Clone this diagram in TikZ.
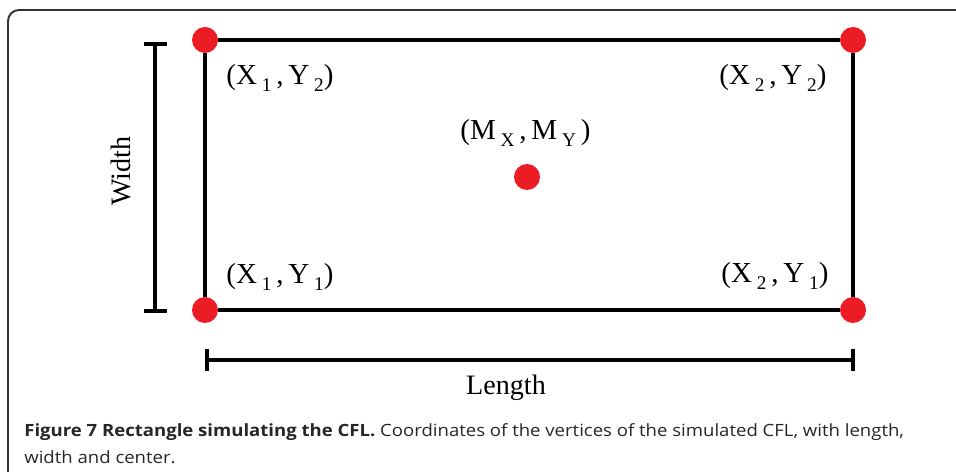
\documentclass[tikz,border=0pt]{standalone}
\usepackage{fontspec}
\setmainfont{Liberation Serif}
\newfontfamily\captfont[FakeStretch=1.1]{Open Sans}
\usepackage{xcolor}
\usepackage{tikz}
\usetikzlibrary{positioning,arrows.meta}

\definecolor{dotred}{RGB}{236,28,36}
\newcommand{\lowsub}[1]{\,\raisebox{-0.5ex}{\fontsize{11}{12}\selectfont #1}}

\begin{document}
\begin{tikzpicture}[x=0.02cm, y=-0.02cm,
				dot/.style={circle, fill=dotred, draw=none, minimum size=0.52cm, inner sep=0pt},
				side/.style={line width=2.5pt, black},
				bar/.style={line width=2pt, {Bar[width=0.46cm]}-{Bar[width=0.46cm]}},
				lbl/.style={anchor=base west, inner sep=0pt, font=\fontsize{16.5}{18}\selectfont},
				frame/.style={line width=1.1pt, black!80, rounded corners=0.22cm},
				capt/.style={anchor=base west, inner sep=0pt,
						font=\captfont\fontsize{9.6}{14.7}\selectfont, text=black!85},
			]
			\useasboundingbox (0,0) rectangle (956,472);
			% outer frame
			\draw[frame] (8,480) -- (8,10) -- (970,10);
			% corners and centre
			\node[dot] (c12) at (205,40) {};
			\node[dot] (c22) at (853,40) {};
			\node[dot] (c11) at (205,310) {};
			\node[dot] (c21) at (853,310) {};
			\node[dot] (mid) at (527,177) {};
			\draw[side] (c12) -- (c22);
			\draw[side] (c22) -- (c21);
			\draw[side] (c21) -- (c11);
			\draw[side] (c11) -- (c12);
			% labels
			\node[lbl] (l12) at (226,85) {(X\lowsub{1}\,,\,Y\lowsub{2})};
			\node[lbl] (l22) at (719,85) {(X\lowsub{2}\,,\,Y\lowsub{2})};
			\node[lbl] (l11) at (226,284) {(X\lowsub{1}\,,\,Y\lowsub{1})};
			\node[lbl] (l21) at (721,283) {(X\lowsub{2}\,,\,Y\lowsub{1})};
			\node[lbl] (lmid) at (460,140) {(M\lowsub{X}\,,\,M\lowsub{Y}\,)};
			% dimensions
			\coordinate (wtop) at (155,42);
			\coordinate (wbot) at (155,313);
			\draw[bar] (wtop) -- (wbot);
			\node[rotate=90, font=\fontsize{16}{18}\selectfont] (wlbl) at (121,171) {Width};
			\coordinate (lleft) at (205,360);
			\coordinate (lright) at (855,360);
			\draw[bar] (lleft) -- (lright);
			\node[font=\fontsize{16}{18}\selectfont] (llbl) at (506,388) {Length};
			% caption
			\node[capt] (cap1) at (24,437) {\textbf{Figure 7 Rectangle simulating the CFL.} Coordinates of the vertices of the simulated CFL, with length,};
			\node[capt] (cap2) at (24,463) {width and center.};
		\end{tikzpicture}
\end{document}
